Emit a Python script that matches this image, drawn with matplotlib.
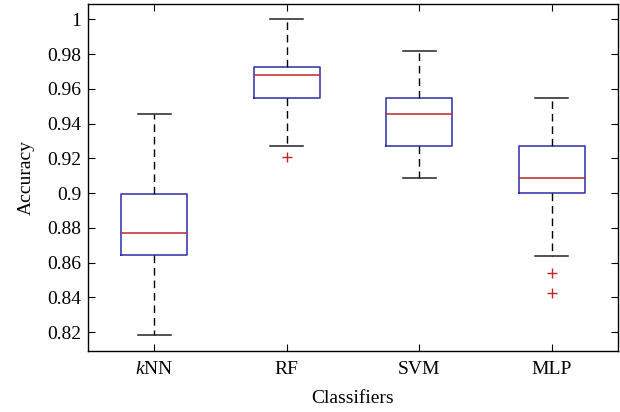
import matplotlib.pyplot as plt

plt.rcParams['font.family'] = ['Liberation Serif', 'DejaVu Serif']
plt.rcParams['mathtext.fontset'] = 'custom'
plt.rcParams['mathtext.it'] = 'Liberation Serif:italic'
plt.rcParams['mathtext.rm'] = 'Liberation Serif'

classifiers = ['$k$NN', 'RF', 'SVM', 'MLP']
whisker_low = [0.8183, 0.9273, 0.9089, 0.8639]
q1 = [0.8643, 0.9546, 0.9273, 0.9001]
medians = [0.8773, 0.9681, 0.9454, 0.9089]
q3 = [0.8997, 0.9724, 0.9546, 0.9273]
whisker_high = [0.9454, 1.0, 0.9818, 0.9546]
outliers = [[], [0.921], [], [0.8543, 0.8428]]

stats = []
for i in range(len(classifiers)):
    stats.append(dict(label=classifiers[i], whislo=whisker_low[i], q1=q1[i], med=medians[i],
                      q3=q3[i], whishi=whisker_high[i], fliers=outliers[i]))

fig = plt.figure(figsize=(6.2, 4.12), dpi=100)
ax = fig.add_axes([0.1419, 0.148, 0.8549, 0.8423])

ax.bxp(stats, widths=0.5, showfliers=True,
       boxprops=dict(color='#2e2ea6', linewidth=1.1),
       medianprops=dict(color='#c02828', linewidth=1.1),
       whiskerprops=dict(color='black', linewidth=1.0, linestyle=(0, (5.5, 3.5))),
       capprops=dict(color='#222222', linewidth=1.1),
       capwidths=0.25,
       flierprops=dict(marker='+', markeredgecolor='#c02828', markersize=7, markeredgewidth=1.0))

ax.set_xlim(0.5, 4.5)
ax.set_ylim(0.8092, 1.0088)
ax.set_yticks([0.82, 0.84, 0.86, 0.88, 0.9, 0.92, 0.94, 0.96, 0.98, 1])
ax.set_yticklabels(['0.82', '0.84', '0.86', '0.88', '0.9', '0.92', '0.94', '0.96', '0.98', '1'])
ax.tick_params(direction='in', top=True, right=True, labelsize=14, length=5, width=0.8, pad=5)
ax.tick_params(axis='x', pad=7)
for s in ax.spines.values():
    s.set_linewidth(1.0)

ax.set_xlabel('Classifiers', fontsize=14, labelpad=9)
ax.set_ylabel('Accuracy', fontsize=14, labelpad=9)

plt.savefig('out.png', dpi=100)
